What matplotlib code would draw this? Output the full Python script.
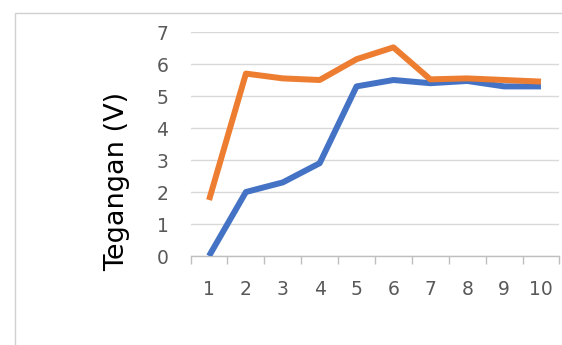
import matplotlib
matplotlib.use('Agg')
from matplotlib import pyplot as plt
from matplotlib.patches import Rectangle

# data
x_vals = [1, 2, 3, 4, 5, 6, 7, 8, 9, 10]
blue_vals = [0.0, 2.0, 2.3, 2.9, 5.3, 5.5, 5.4, 5.47, 5.3, 5.3]
orange_vals = [1.75, 5.7, 5.55, 5.5, 6.15, 6.52, 5.52, 5.55, 5.5, 5.45]
y_ticks = [0, 1, 2, 3, 4, 5, 6, 7]

fig = plt.figure(figsize=(5.62, 3.45), dpi=100)
ax = fig.add_axes([190.6 / 562, 89 / 345, 368.8 / 562, 224 / 345])

# chart area border (cropped at right and bottom)
fig.patches.append(Rectangle((15 / 562, -0.1), 1.2, (345 - 13) / 345 + 0.1,
                             transform=fig.transFigure, fill=False,
                             edgecolor='#d0d0d0', linewidth=1.0))

ax.plot(x_vals, blue_vals, color='#4472C4', linewidth=4.3, solid_capstyle='butt', zorder=3)
ax.plot(x_vals, orange_vals, color='#ED7D31', linewidth=4.3, solid_capstyle='butt', zorder=4)

ax.set_xlim(0.5, 10.5)
ax.set_ylim(0, 7)
ax.set_yticks(y_ticks)
ax.set_xticks(x_vals)
ax.set_xticks([v + 0.5 for v in [0] + x_vals], minor=True)

ax.grid(axis='y', color='#d9d9d9', linewidth=1.0)
ax.set_axisbelow(True)
for side in ['top', 'right', 'left']:
    ax.spines[side].set_visible(False)
ax.spines['bottom'].set_color('#bfbfbf')
ax.spines['bottom'].set_linewidth(1.0)

ax.tick_params(axis='y', length=0, labelsize=13.5, labelcolor='#595959', pad=16)
ax.tick_params(axis='x', which='major', length=0, labelsize=13.5, labelcolor='#595959', pad=17)
ax.tick_params(axis='x', which='minor', length=6, color='#bfbfbf', width=1.0)

ax.set_ylabel('Tegangan (V)', fontsize=19.5, color='black')
ax.yaxis.set_label_coords(-0.164, 0.335)

fig.savefig('out.png', dpi=100)
